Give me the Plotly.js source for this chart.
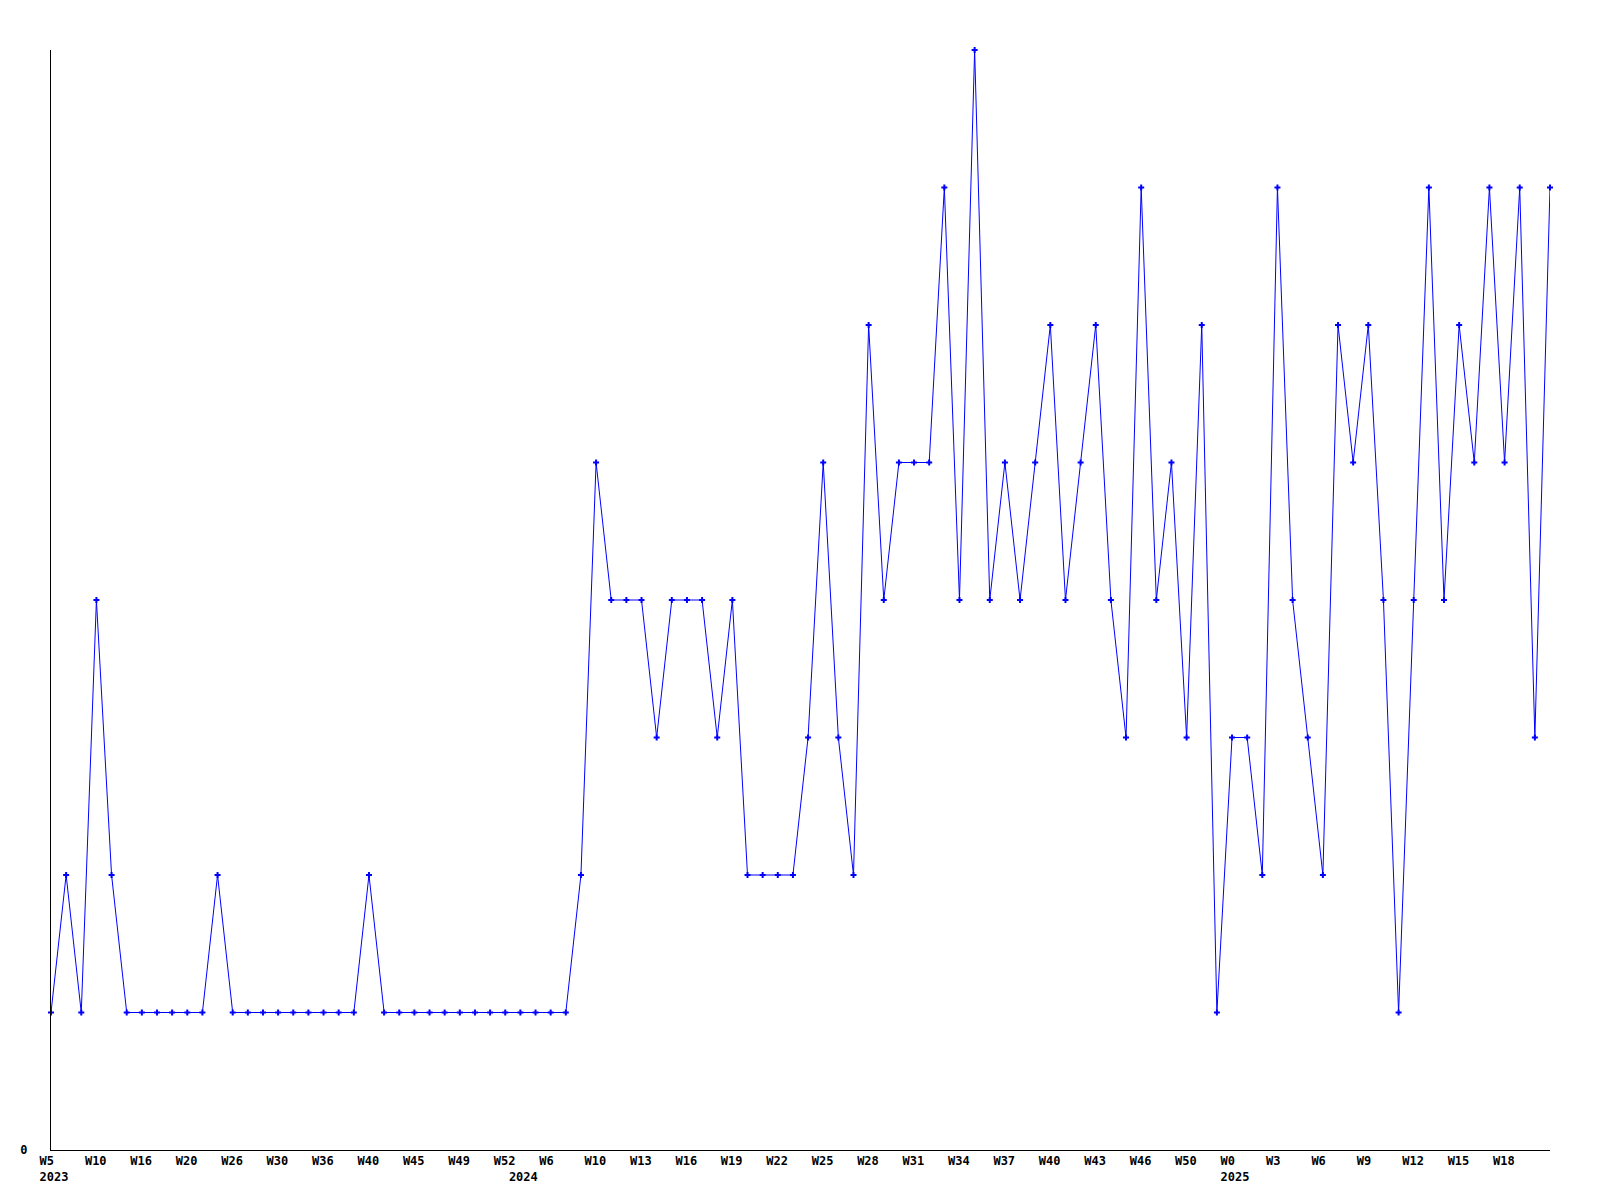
<!DOCTYPE html>
<html>
<head>
<meta charset="utf-8">
<script src="https://cdn.plot.ly/plotly-3.0.1.min.js"></script>
<style>html,body{margin:0;padding:0;background:#fff;}#chart{width:1600px;height:1200px;}</style>
</head>
<body>
<div id="chart"></div>
<script>
// Weekly values (one per point)
const values = [
  1, 2, 1, 4, 2, 1, 1, 1, 1, 1,
  1, 2, 1, 1, 1, 1, 1, 1, 1, 1,
  1, 2, 1, 1, 1, 1, 1, 1, 1, 1,
  1, 1, 1, 1, 1, 2, 5, 4, 4, 4,
  3, 4, 4, 4, 3, 4, 2, 2, 2, 2,
  3, 5, 3, 2, 6, 4, 5, 5, 5, 7,
  4, 8, 4, 5, 4, 5, 6, 4, 5, 6,
  4, 3, 7, 4, 5, 3, 6, 1, 3, 3,
  2, 7, 4, 3, 2, 6, 5, 6, 4, 1,
  4, 7, 4, 6, 5, 7, 5, 7, 3, 7
];
// Tick labels, one every 3 points
const weekLabels = ['W5','W10','W16','W20','W26','W30','W36','W40','W45','W49','W52',
  'W6','W10','W13','W16','W19','W22','W25','W28','W31','W34','W37','W40','W43','W46','W50',
  'W0','W3','W6','W9','W12','W15','W18'];
// Year labels and the point index where they appear
const yearLabels = ['2023','2024','2025'];
const yearPoints = [0, 31, 78];

const xs = values.map((v, i) => i);
const tickStep = 3;
const tickvals = [];
const ticktext = [];
weekLabels.forEach((w, k) => {
  const p = k * tickStep;
  const yi = yearPoints.indexOf(p);
  tickvals.push(p);
  ticktext.push(yi >= 0 ? w + '<br>' + yearLabels[yi] : w);
});
yearPoints.forEach((p, j) => {
  if (tickvals.indexOf(p) < 0) {
    tickvals.push(p);
    ticktext.push('\u00a0<br>' + yearLabels[j]);
  }
});

const tickFont = {family: 'DejaVu Sans Mono, monospace', size: 12, color: '#000', weight: 'bold'};

Plotly.newPlot('chart', [{
  x: xs, y: values, type: 'scatter', mode: 'lines+markers',
  line: {color: '#0000ff', width: 1},
  marker: {color: '#0000ff', size: 5, symbol: 'cross', line: {width: 0}},
  cliponaxis: false,
  hoverinfo: 'skip'
}], {
  width: 1600, height: 1200,
  margin: {l: 51, r: 50, t: 50, b: 50, pad: 0},
  paper_bgcolor: '#fff', plot_bgcolor: '#fff',
  showlegend: false,
  xaxis: {
    range: [0, values.length - 1], showgrid: false, zeroline: false,
    showline: true, linecolor: '#000', linewidth: 1,
    tickmode: 'array', tickvals: tickvals, ticktext: ticktext,
    ticks: '', tickfont: tickFont, tickangle: 0,
    ticklabelposition: 'outside right', ticklabelshift: -12
  },
  yaxis: {
    range: [0, 8], showgrid: false, zeroline: false,
    showline: true, linecolor: '#000', linewidth: 1,
    tickmode: 'array', tickvals: [0], ticktext: ['0'],
    ticks: '', tickfont: tickFont, ticklabelstandoff: 20
  }
}, {displayModeBar: false, staticPlot: true});
</script>
</body>
</html>
